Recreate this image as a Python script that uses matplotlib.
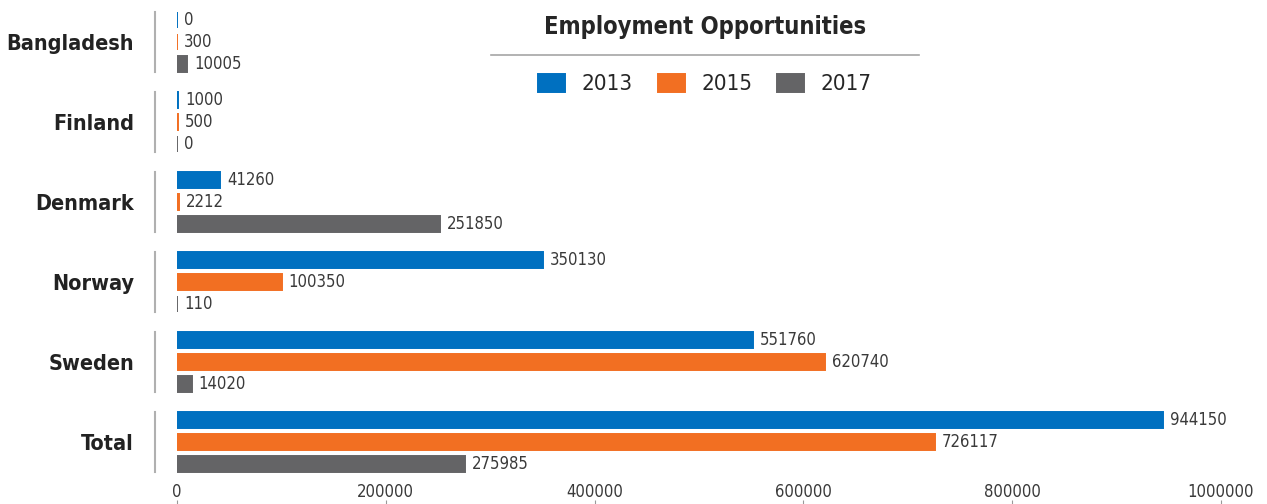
import numpy as np
import matplotlib
matplotlib.use('Agg')
import matplotlib.pyplot as plt
import matplotlib.transforms as mtransforms

plt.rcParams['font.family'] = ['DejaVu Sans']
plt.rcParams['font.stretch'] = 'condensed'

countries = ['Bangladesh', 'Finland', 'Denmark', 'Norway', 'Sweden', 'Total']
years = ['2013', '2015', '2017']
jobs_2013 = [0, 1000, 41260, 350130, 551760, 944150]
jobs_2015 = [300, 500, 2212, 100350, 620740, 726117]
jobs_2017 = [10005, 0, 251850, 110, 14020, 275985]
colors = ['#0070C0', '#F26F22', '#646466']
x_ticks = [0, 200000, 400000, 600000, 800000, 1000000]

W, H = 1267, 504
fig = plt.figure(figsize=(W / 100, H / 100), dpi=100)
ax = fig.add_axes([177 / W, 4 / H, (1221 - 177) / W, 1 - 4 / H])

y = np.arange(len(countries))
step = 0.275
bar_h = 0.2
series = [jobs_2013, jobs_2015, jobs_2017]
handles = []
for i, (vals, c, yr) in enumerate(zip(series, colors, years)):
    bars = ax.barh(y + (i - 1) * step, vals, height=bar_h, color=c,
                   edgecolor=c, linewidth=1.4, label=yr)
    ax.bar_label(bars, labels=[str(v) for v in vals], padding=5,
                 fontsize=12, color='#3a3a3a')
    handles.append(bars)

ax.set_xlim(0, 1000000)
ax.set_ylim(5.725, -0.525)

# country names on the left, with a thin divider per group
ax.set_yticks(y)
ax.set_yticklabels(countries, fontsize=15.5, fontweight='bold', color='#222222')
ax.tick_params(axis='y', length=0, pad=31)
trans = mtransforms.blended_transform_factory(ax.transAxes, ax.transData)
for yi in y:
    ax.plot([-0.021, -0.021], [yi - 0.375, yi + 0.375], color='#b0b0b0',
            lw=1.5, transform=trans, clip_on=False)

ax.set_xticks(x_ticks)
ax.set_xticklabels([str(t) for t in x_ticks], fontsize=12, color='#3a3a3a')
ax.tick_params(axis='x', direction='out', length=4, width=0.8,
               color='#999999', pad=-16)

for s in ax.spines.values():
    s.set_visible(False)

# title with rule underneath, legend below it
fig.text(705 / W, 1 - 27 / H, 'Employment Opportunities', ha='center',
         va='center', fontsize=17, fontweight='bold', color='#262626')
fig.add_artist(plt.Line2D([491 / W, 919 / W], [1 - 55 / H, 1 - 55 / H],
                          color='#a6a6a6', lw=1.2))
fig.legend(handles=handles, loc='center', bbox_to_anchor=(705 / W, 1 - 84 / H),
           ncol=3, frameon=False, fontsize=16, handlelength=1.22,
           handleheight=0.9, handletextpad=0.76, columnspacing=1.1,
           labelcolor='#262626')

fig.savefig('out.png', dpi=100)
